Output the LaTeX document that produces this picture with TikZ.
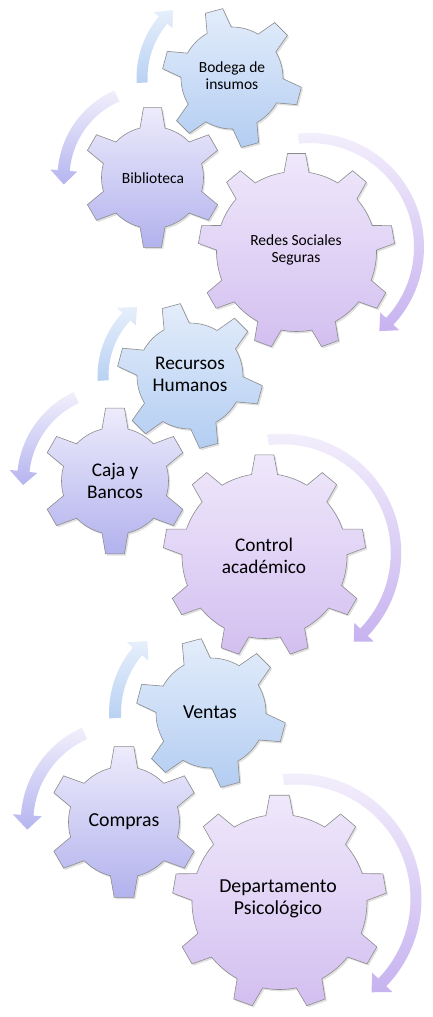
\documentclass[tikz,border=0pt]{standalone}
\usepackage{fontspec}
\setmainfont{Carlito}
\definecolor{bgTop}{HTML}{E3EDFB}
\definecolor{bgBot}{HTML}{B3CDF2}
\definecolor{pgTop}{HTML}{EDEBFB}
\definecolor{pgBot}{HTML}{B2B2EE}
\definecolor{lgTop}{HTML}{EFE8FB}
\definecolor{lgBot}{HTML}{D3BFF0}
\definecolor{baTop}{HTML}{E6EFFB}
\definecolor{baBot}{HTML}{B9D1F3}
\definecolor{paTop}{HTML}{F1EFFB}
\definecolor{paBot}{HTML}{B5B5F0}
\definecolor{laTop}{HTML}{F4F0FC}
\definecolor{laBot}{HTML}{C7B3F0}
\tikzset{
  gearline/.style={draw=black!45, line width=0.6pt},
  bluegear/.style={gearline, top color=bgTop, bottom color=bgBot},
  purplegear/.style={gearline, top color=pgTop, bottom color=pgBot},
  lavgear/.style={gearline, top color=lgTop, bottom color=lgBot},
  gshadow/.style={fill=black, opacity=0.12},
  bluearrow/.style={top color=baTop, bottom color=baBot},
  purplearrow/.style={top color=paTop, bottom color=paBot},
  lavarrow/.style={top color=laTop, bottom color=laBot},
  lblA/.style={align=center, font=\fontsize{15.5}{17}\selectfont, text=black},
  lblB/.style={align=center, font=\fontsize{19.3}{22}\selectfont, text=black},
  lblC/.style={align=center, font=\fontsize{19.8}{22}\selectfont, text=black},
}
% gear: x, y, N, R, rb, rot, tip half width, base half width, style
\newcommand\gearfig[9]{%
  \pgfmathsetmacro\gstep{360/#3}%
  \pgfmathtruncatemacro\glast{#3-1}%
  \pgfmathsetmacro\gbt{asin(#7/#4)}%
  \pgfmathsetmacro\gbb{asin(#8/#5)}%
  \path[gshadow, shift={(#1+1.6,#2-1.8)}] ({#6-\gbb}:#5)
    \foreach \k in {0,...,\glast}{
      -- ({#6+\k*\gstep-\gbt}:#4) -- ({#6+\k*\gstep+\gbt}:#4)
      -- ({#6+\k*\gstep+\gbb}:#5)
      arc[start angle={#6+\k*\gstep+\gbb}, delta angle={\gstep-2*\gbb}, radius=#5]
    } -- cycle;
  \path[#9, shift={(#1,#2)}] ({#6-\gbb}:#5)
    \foreach \k in {0,...,\glast}{
      -- ({#6+\k*\gstep-\gbt}:#4) -- ({#6+\k*\gstep+\gbt}:#4)
      -- ({#6+\k*\gstep+\gbb}:#5)
      arc[start angle={#6+\k*\gstep+\gbb}, delta angle={\gstep-2*\gbb}, radius=#5]
    } -- cycle;
}
% circular arrow: cx, cy, r, a1, a2, a3(tip), width, head half width, style
\newcommand\circarrow[9]{%
  \path[#9, shift={(#1,#2)}] (#4:{#3+#7/2})
    arc[start angle=#4, end angle=#5, radius={#3+#7/2}]
    -- (#5:{#3+#8}) -- (#6:#3) -- (#5:{#3-#8})
    -- (#5:{#3-#7/2})
    arc[start angle=#5, end angle=#4, radius={#3-#7/2}] -- cycle;
}
\begin{document}
\begin{tikzpicture}[x=1pt, y=1pt]
\useasboundingbox (0,0) rectangle (432,-1017);
\fill[white] (0,0) rectangle (432,-1017);
% ---------- group 1 ----------
\circarrow{232}{-78}{90}{183}{140}{131}{11}{12.5}{bluearrow}
\circarrow{152.5}{-177.5}{89}{113.6}{175.5}{184.5}{12}{13.5}{purplearrow}
\circarrow{310}{-247}{109}{96}{-43}{-50.5}{10}{13}{lavarrow}
\gearfig{232}{-78}{6}{70}{51}{105}{9}{12.5}{bluegear}
\gearfig{152.5}{-177.5}{6}{70.5}{51}{90}{9}{12.5}{purplegear}
\gearfig{296.5}{-251.5}{9}{98.4}{80}{90}{9}{12.5}{lavgear}
\node[lblA] (bodega) at (232,-76) {Bodega de\\insumos};
\node[lblA] (biblio) at (153,-178) {Biblioteca};
\node[lblA] (redes) at (296,-250) {Redes Sociales\\Seguras};
% ---------- group 2 ----------
\circarrow{190}{-376}{87}{183}{137}{127.5}{11}{13}{bluearrow}
\circarrow{115}{-481}{92}{115}{174}{182.5}{12}{14}{purplearrow}
\circarrow{282}{-553}{114}{97}{-44}{-51}{10.5}{13.5}{lavarrow}
\gearfig{190}{-376}{6}{73}{53}{105}{9.4}{13}{bluegear}
\gearfig{115}{-481}{6}{73.5}{53.5}{90}{9.4}{13}{purplegear}
\gearfig{264.5}{-556}{9}{101.5}{82.5}{90}{9.4}{13}{lavgear}
\node[lblB] (recursos) at (190,-374) {Recursos\\Humanos};
\node[lblB] (caja) at (115,-480.5) {Caja y\\Bancos};
\node[lblB] (control) at (264,-555.5) {Control\\académico};
% ---------- group 3 ----------
\circarrow{211}{-713}{96}{183}{140}{131.5}{12}{14}{bluearrow}
\circarrow{124}{-822}{97}{114}{176}{184.5}{12.5}{14.5}{purplearrow}
\circarrow{296}{-899}{120}{96}{-44}{-51}{11}{14}{lavarrow}
\gearfig{211}{-713}{6}{75}{55}{105}{9.8}{13.6}{bluegear}
\gearfig{124}{-822}{6}{76}{55.5}{90}{9.8}{13.6}{purplegear}
\gearfig{279.5}{-902}{9}{107.2}{87.5}{90}{9.8}{13.6}{lavgear}
\node[lblC] (ventas) at (210,-712) {Ventas};
\node[lblC] (compras) at (124,-822) {Compras};
\node[lblC] (depto) at (278,-899) {Departamento\\Psicológico};
\end{tikzpicture}
\end{document}
